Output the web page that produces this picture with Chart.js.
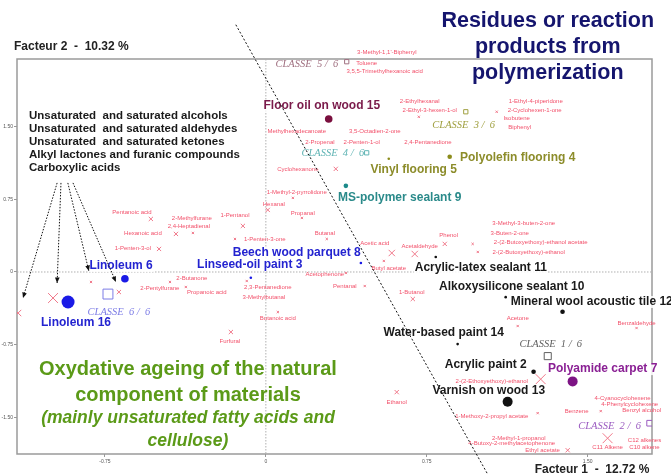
<!DOCTYPE html>
<html>
<head>
<meta charset="utf-8">
<script src="https://cdn.jsdelivr.net/npm/chart.js@4.4.1/dist/chart.umd.min.js"></script>
<style>
html,body{margin:0;padding:0;background:#fff}
#wrap{width:671px;height:474px}
</style>
</head>
<body>
<div id="wrap"><canvas id="chart" width="671" height="474"></canvas></div>
<script>
// axis ticks
const xTicks = [-0.75, 0, 0.75, 1.5];
const yTicks = [-1.5, -0.75, 0, 0.75, 1.5];

// compounds (active variables): marker positions + weight (contribution)
const compX = [-0.536,-0.340,-0.419,-0.107,-0.498,-0.144,0.009,0.126,0.168,0.284,0.373,0.461,0.587,0.694,0.834,0.550,0.685,0.964,0.988,1.174,1.728,-0.447,-0.373,-0.089,0.056,-0.163,-1.155,-0.992,-0.815,-0.685,0.326,0.713,1.076,1.281,0.610,1.267,1.561,1.593,1.407];
const compY = [0.548,0.403,0.393,0.476,0.238,0.341,0.641,0.765,0.558,0.341,-0.010,-0.145,0.196,0.186,0.290,0.114,-0.279,0.290,0.207,-0.558,-0.579,-0.103,-0.155,-0.093,-0.414,-0.620,-0.424,-0.269,-0.103,-0.207,1.065,1.603,1.655,-1.107,-1.241,-1.458,-1.437,-1.717,-1.841];
const compWeight = [2,1,2,2,2,1,2,1,1,1,1,1,3,3,2,1,2,1,1,1,1,1,1,1,1,2,3,4,1,2,2,1,1,4,2,1,1,4,2];

// compound names, where the plot wrote them
const compNames = ["Pentanoic acid","2-Methylfurane","2,4-Heptadienal","Hexanoic acid","1-Pentanol","1-Penten-3-ol","1-Penten-3-one","Hexanal","1-Methyl-2-pyrrolidone","Propanal","Butanal","Acetophenone","Pentanal","Acetic acid","Acetaldehyde","Phenol","Butyl acetate","1-Butanol","3-Methyl-3-buten-2-one","3-Buten-2-one","2-(2-Butoxyethoxy)-ethanol acetate","2-(2-Butoxyethoxy)-ethanol","Acetone","Benzaldehyde","2-Butanone","2-Pentylfurane","Propanoic acid","2,3-Pentanedione","3-Methylbutanal","Butanoic acid","Furfural","3-Methyl-1,1'-Biphenyl","Toluene","3,5,5-Trimethylhexanoic acid","Methylhexadecanoate","3,5-Octadien-2-one","2-Propenal","2-Penten-1-ol","2,4-Pentanedione","Cyclohexanone","2-Ethylhexanal","2-Ethyl-3-hexen-1-ol","1-Ethyl-4-piperidone","2-Cyclohexen-1-one","Isobutene","Biphenyl","2-(2-Ethoxyethoxy)-ethanol","Ethanol","1-Methoxy-2-propyl acetate","Benzene","4-Cyanocyclohexene","4-Phenylcyclohexene","Benzyl alcohol","C11 Alkene","C12 alkenes","C10 alkene","2-Methyl-1-propanol","4-Butoxy-2-methylacetophenone","Ethyl acetate"];
const compLabelX = [-0.624,-0.345,-0.359,-0.573,-0.144,-0.620,-0.005,0.037,0.144,0.172,0.275,0.275,0.368,0.508,0.717,0.852,0.573,0.680,1.202,1.137,1.281,1.225,1.174,1.728,-0.345,-0.494,-0.275,0.009,-0.009,0.056,-0.168,0.564,0.470,0.554,0.144,0.508,0.252,0.447,0.755,0.149,0.717,0.764,1.258,1.253,1.169,1.183,1.053,0.610,1.053,1.449,1.663,1.696,1.752,1.593,1.765,1.765,1.179,1.146,1.290];
const compLabelY = [0.620,0.558,0.476,0.403,0.589,0.248,0.341,0.703,0.827,0.610,0.403,-0.020,-0.145,0.300,0.269,0.383,0.041,-0.207,0.507,0.403,0.310,0.207,-0.476,-0.527,-0.062,-0.165,-0.207,-0.155,-0.259,-0.476,-0.714,2.265,2.151,2.068,1.448,1.448,1.344,1.344,1.344,1.065,1.758,1.665,1.758,1.665,1.582,1.489,-1.127,-1.344,-1.489,-1.437,-1.303,-1.365,-1.427,-1.810,-1.737,-1.810,-1.717,-1.768,-1.841];

// materials (supplementary individuals)
const sampleNames = ["Floor oil on wood 15","Polyolefin flooring 4","Vinyl flooring 5","MS-polymer sealant 9","Beech wood parquet 8","Linseed-oil paint 3","Linoleum 6","Linoleum 16","Acrylic-latex sealant 11","Alkoxysilicone sealant 10","Mineral wool acoustic tile 12","Water-based paint 14","Acrylic paint 2","Varnish on wood 13","Polyamide carpet 7"];
const sampleX = [0.293,0.857,0.573,0.373,0.443,-0.070,-0.657,-0.922,0.792,1.118,1.383,0.894,1.248,1.127,1.430];
const sampleY = [1.580,1.190,1.170,0.890,0.093,-0.060,-0.070,-0.310,0.155,-0.260,-0.410,-0.745,-1.030,-1.340,-1.130];
const sampleWeight = [3,2,1,2,1,1,3,5,1,1,2,1,2,4,4];
const sampleClass = [5,3,3,4,6,6,6,6,1,1,1,1,1,1,2];
const sampleLabelX = [0.261,1.174,0.689,0.624,0.144,-0.075,-0.675,-0.885,1.002,1.146,1.519,0.829,1.025,1.039,1.570];
const sampleLabelY = [1.717,1.179,1.055,0.765,0.196,0.072,0.062,-0.527,0.041,-0.155,-0.310,-0.631,-0.962,-1.231,-1.003];

// class centres
const classIds = [1,2,3,4,5,6];
const classX = [1.314,1.789,0.932,0.470,0.377,-0.736];
const classY = [-0.869,-1.562,1.655,1.231,2.172,-0.228];
const classWeight = [3,2,1,1,1,4];
const classLabelX = [1.328,1.602,0.922,0.312,0.191,-0.685];
const classLabelY = [-0.745,-1.593,1.520,1.231,2.141,-0.414];

// cut line and arrows
const cutX = [-0.140, 1.034];
const cutY = [2.554, -2.089];
const arrowFromX = [-0.973,-0.955,-0.923,-0.899];
const arrowFromY = [0.92,0.92,0.92,0.92];
const arrowToX = [-1.132,-0.973,-0.825,-0.699];
const arrowToY = [-0.269,-0.114,0.010,-0.103];

const classColor = {1:'#111111',2:'#7d1484',3:'#8c8c1c',4:'#1c8a8a',5:'#7a0f3e',6:'#1a1ae6'};
const classLabelColor = {1:'#606060',2:'#9a5ac0',3:'#a0a040',4:'#60b4b4',5:'#a07080',6:'#7d7de6'};
const sampleLabelColor = {1:'#1a1a1a',2:'#8a2094',3:'#8c8c2a',4:'#2a8a8a',5:'#7a1a4a',6:'#2323d0'};
const compRadius = {1:1.6,2:3,3:4.5,4:7};
const sampleRadius = {1:1.3,2:2.3,3:3.8,4:5,5:6.5};
const classRadius = {1:3,2:4,3:5,4:7};

const SANS = "'Liberation Sans', Arial, sans-serif";
const SERIF = "'Liberation Serif', 'Times New Roman', serif";

// free text drawn on the figure
const notes = [
  {t:'Residues or reaction', x:1.314, y:2.595, f:'bold 21.5px '+SANS, c:'#15156e', a:'center'},
  {t:'products from', x:1.314, y:2.327, f:'bold 21.5px '+SANS, c:'#15156e', a:'center'},
  {t:'polymerization', x:1.314, y:2.058, f:'bold 21.5px '+SANS, c:'#15156e', a:'center'},
  {t:'Unsaturated  and saturated alcohols', x:-1.104, y:1.613, f:'bold 11.5px '+SANS, c:'#1a1a1a', a:'left'},
  {t:'Unsaturated  and saturated aldehydes', x:-1.104, y:1.479, f:'bold 11.5px '+SANS, c:'#1a1a1a', a:'left'},
  {t:'Unsaturated  and saturated ketones', x:-1.104, y:1.344, f:'bold 11.5px '+SANS, c:'#1a1a1a', a:'left'},
  {t:'Alkyl lactones and furanic compounds', x:-1.104, y:1.210, f:'bold 11.5px '+SANS, c:'#1a1a1a', a:'left'},
  {t:'Carboxylic acids', x:-1.104, y:1.075, f:'bold 11.5px '+SANS, c:'#1a1a1a', a:'left'},
  {t:'Oxydative ageing of the natural', x:-0.363, y:-1.003, f:'bold 20px '+SANS, c:'#5b9a18', a:'center'},
  {t:'component of materials', x:-0.363, y:-1.272, f:'bold 20px '+SANS, c:'#5b9a18', a:'center'},
  {t:'(mainly unsaturated fatty acids and', x:-0.363, y:-1.510, f:'italic bold 17.5px '+SANS, c:'#5b9a18', a:'center'},
  {t:'cellulose)', x:-0.363, y:-1.748, f:'italic bold 17.5px '+SANS, c:'#5b9a18', a:'center'},
  {t:'Facteur 2  -  10.32 %', x:-1.174, y:2.327, f:'bold 12px '+SANS, c:'#222', a:'left'},
  {t:'Facteur 1  -  12.72 %', x:1.253, y:-2.037, f:'bold 12px '+SANS, c:'#222', a:'left'}
];

function px(chart, x, y){
  return [chart.scales.x.getPixelForValue(x), chart.scales.y.getPixelForValue(y)];
}

const figurePlugin = {
  id:'figure',
  beforeDatasetsDraw(chart){
    const ctx = chart.ctx, a = chart.chartArea;
    ctx.save();
    // frame
    ctx.strokeStyle = '#9a9a9a';
    ctx.lineWidth = 1.5;
    ctx.strokeRect(a.left, a.top, a.right - a.left, a.bottom - a.top);
    // zero lines
    ctx.strokeStyle = '#b0b0b0';
    ctx.lineWidth = 1;
    ctx.setLineDash([1.5, 1.5]);
    const x0 = chart.scales.x.getPixelForValue(0);
    const y0 = chart.scales.y.getPixelForValue(0);
    ctx.beginPath();
    ctx.moveTo(x0, a.top); ctx.lineTo(x0, a.bottom);
    ctx.moveTo(a.left, y0); ctx.lineTo(a.right, y0);
    ctx.stroke();
    ctx.setLineDash([]);

    ctx.textBaseline = 'middle';
    // compound names
    ctx.font = '6px ' + SANS;
    ctx.fillStyle = '#f2506a';
    ctx.textAlign = 'center';
    compNames.forEach((n, i) => {
      const p = px(chart, compLabelX[i], compLabelY[i]);
      ctx.fillText(n, p[0], p[1]);
    });
    // class names
    ctx.font = 'italic 10.5px ' + SERIF;
    classIds.forEach((c, i) => {
      const p = px(chart, classLabelX[i], classLabelY[i]);
      ctx.fillStyle = classLabelColor[c];
      ctx.fillText('CLASSE  ' + c + ' /  6', p[0], p[1]);
    });
    // material names
    ctx.font = 'bold 12px ' + SANS;
    sampleNames.forEach((n, i) => {
      const p = px(chart, sampleLabelX[i], sampleLabelY[i]);
      const w = ctx.measureText(n).width;
      ctx.fillStyle = 'rgba(255,255,255,0.85)';
      ctx.fillRect(p[0] - w/2 - 1, p[1] - 6, w + 2, 12);
      ctx.fillStyle = sampleLabelColor[sampleClass[i]];
      ctx.fillText(n, p[0], p[1]);
    });
    // notes
    notes.forEach(n => {
      const p = px(chart, n.x, n.y);
      ctx.font = n.f;
      ctx.fillStyle = n.c;
      ctx.textAlign = n.a;
      ctx.fillText(n.t, p[0], p[1]);
    });
    ctx.restore();
  },
  afterDatasetsDraw(chart){
    const ctx = chart.ctx;
    ctx.save();
    ctx.strokeStyle = '#111';
    ctx.fillStyle = '#111';
    ctx.lineWidth = 1;
    arrowFromX.forEach((v, i) => {
      const s = px(chart, v, arrowFromY[i]);
      const e = px(chart, arrowToX[i], arrowToY[i]);
      ctx.setLineDash([1.5, 1.5]);
      ctx.beginPath();
      ctx.moveTo(s[0], s[1]); ctx.lineTo(e[0], e[1]);
      ctx.stroke();
      ctx.setLineDash([]);
      const ang = Math.atan2(e[1] - s[1], e[0] - s[0]);
      ctx.beginPath();
      ctx.moveTo(e[0], e[1]);
      ctx.lineTo(e[0] - 6*Math.cos(ang - 0.4), e[1] - 6*Math.sin(ang - 0.4));
      ctx.lineTo(e[0] - 6*Math.cos(ang + 0.4), e[1] - 6*Math.sin(ang + 0.4));
      ctx.closePath();
      ctx.fill();
    });
    ctx.restore();
  }
};

new Chart(document.getElementById('chart'), {
  type:'scatter',
  data:{
    datasets:[
      {
        type:'line',
        data:cutX.map((x, i) => ({x:x, y:cutY[i]})),
        borderColor:'#111',
        borderWidth:1,
        borderDash:[2, 2],
        pointRadius:0,
        fill:false,
        clip:false
      },
      {
        data:sampleX.map((x, i) => ({x:x, y:sampleY[i]})),
        pointStyle:'circle',
        pointRadius:sampleWeight.map(w => sampleRadius[w]),
        backgroundColor:sampleClass.map(c => classColor[c]),
        borderColor:sampleClass.map(c => classColor[c]),
        borderWidth:0
      },
      {
        data:classX.map((x, i) => ({x:x, y:classY[i]})),
        pointStyle:'rect',
        pointRadius:classWeight.map(w => classRadius[w]),
        backgroundColor:'rgba(0,0,0,0)',
        borderColor:classIds.map(c => classLabelColor[c]),
        borderWidth:1
      },
      {
        data:compX.map((x, i) => ({x:x, y:compY[i]})),
        pointStyle:'crossRot',
        pointRadius:compWeight.map(w => compRadius[w]),
        borderColor:'#f0788a',
        borderWidth:1
      }
    ]
  },
  options:{
    responsive:false,
    animation:false,
    layout:{padding:{top:59, right:19, bottom:0, left:0}},
    plugins:{legend:{display:false}, tooltip:{enabled:false}},
    scales:{
      x:{
        type:'linear', min:-1.16, max:1.80,
        afterBuildTicks: a => { a.ticks = xTicks.map(v => ({value:v})); },
        afterFit: a => { a.height = 20; },
        ticks:{font:{size:5, family:SANS}, color:'#555', padding:2, maxRotation:0,
          callback: v => v === 0 ? '0' : v.toFixed(2)},
        grid:{display:true, drawOnChartArea:false, drawTicks:true, tickLength:3, color:'#999'},
        border:{display:false}
      },
      y:{
        type:'linear', min:-1.88, max:2.20,
        afterBuildTicks: a => { a.ticks = yTicks.map(v => ({value:v})); },
        afterFit: a => { a.width = 17; },
        ticks:{font:{size:5, family:SANS}, color:'#555', padding:1,
          callback: v => v === 0 ? '0' : v.toFixed(2)},
        grid:{display:true, drawOnChartArea:false, drawTicks:true, tickLength:3, color:'#999'},
        border:{display:false}
      }
    }
  },
  plugins:[figurePlugin]
});
</script>
</body>
</html>
